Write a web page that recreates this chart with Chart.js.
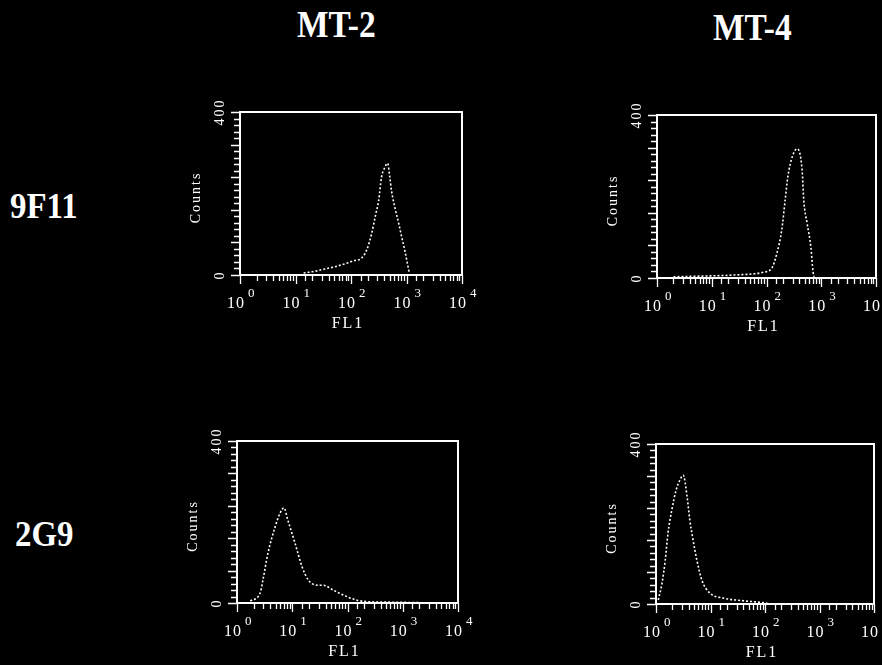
<!DOCTYPE html>
<html>
<head>
<meta charset="utf-8">
<script src="https://cdn.jsdelivr.net/npm/chart.js@4.4.1/dist/chart.umd.min.js"></script>
<style>
  html, body { margin:0; padding:0; background:#000; width:882px; height:665px; overflow:hidden; }
  .pane { position:absolute; }
  .lbl { position:absolute; color:#fff; font-family:"Liberation Serif", "DejaVu Serif", serif; font-weight:bold; white-space:nowrap; transform-origin:left top; }
</style>
</head>
<body>
<div id="titles"></div>
<canvas id="c1" class="pane"></canvas>
<canvas id="c2" class="pane"></canvas>
<canvas id="c3" class="pane"></canvas>
<canvas id="c4" class="pane"></canvas>
<script>
// ---- data ----
const columnTitles = ['MT-2', 'MT-4'];
const rowTitles = ['9F11', '2G9'];
const yTickLabels = [0, 400];
const xTickExponents = [0, 1, 2, 3, 4];
const yAxisTitle = 'Counts';
const xAxisTitle = 'FL1';

// MT-2 / 9F11
const mt2_9f11_fl1 =    [14, 20, 32, 50, 80, 112, 150, 190, 235, 280, 315, 355, 400, 457, 500, 537, 630, 725, 830, 935, 1050, 1120];
const mt2_9f11_counts = [5,  8,  14, 20, 28, 35,  40,  60,  101, 150, 183, 240, 262, 274, 240, 207, 160, 126, 90,  59,  25,   5];
// MT-4 / 9F11
const mt4_9f11_fl1 =    [2, 4, 8, 16, 32, 56, 87, 126, 155, 190, 219, 245, 295, 363, 447, 479, 550, 646, 708, 741];
const mt4_9f11_counts = [3, 4, 5, 6,  8,  10, 14, 25,  61,  118, 191, 248, 297, 317, 265, 191, 135, 76,  15,  3];
// MT-2 / 2G9
const mt2_2g9_fl1 =    [1.74, 2.63, 2.95, 3.63, 4.9, 6.03, 7.08, 8.3, 11.2, 15.1, 19.5, 28.2, 36.3, 55, 83, 148, 257, 630, 2000];
const mt2_2g9_counts = [5,    25,   57,   123,  188, 222,  235,  205, 148,  89,   57,   44,   44,   32, 20, 7,   3,   2,   1];
// MT-4 / 2G9
const mt4_2g9_fl1 =    [1.1, 1.29, 1.48, 1.66, 1.95, 2.34, 2.75, 3.16, 3.72, 4.17, 4.79, 5.62, 6.92, 9.77, 17, 40, 71, 110];
const mt4_2g9_counts = [10,  52,   110,  177,  235,  285,  310,  322,  268,  210,  160,  110,  60,   27,   15, 8,  5,  2];

// ---- layout (plot box in page pixels) ----
const PAD_L = 60, PAD_T = 20, PAD_R = 20, PAD_B = 60;
const panels = [
  { id: 'c1', box: [240, 112, 462, 275], fl1: mt2_9f11_fl1, counts: mt2_9f11_counts },
  { id: 'c2', box: [657, 115, 876, 278], fl1: mt4_9f11_fl1, counts: mt4_9f11_counts },
  { id: 'c3', box: [237, 441, 458, 603], fl1: mt2_2g9_fl1, counts: mt2_2g9_counts },
  { id: 'c4', box: [656, 444, 874, 604], fl1: mt4_2g9_fl1, counts: mt4_2g9_counts }
];

// ---- titles ----
const titleDiv = document.getElementById('titles');
const titlePos = [
  { text: columnTitles[0], x: 297, y: 2, size: 38, sx: 0.88 },
  { text: columnTitles[1], x: 713, y: 5, size: 38, sx: 0.88 },
  { text: rowTitles[0], x: 10, y: 187, size: 35, sx: 0.94 },
  { text: rowTitles[1], x: 15, y: 515, size: 35, sx: 0.94 }
];
titlePos.forEach(t => {
  const d = document.createElement('div');
  d.className = 'lbl';
  d.textContent = t.text;
  d.style.left = t.x + 'px';
  d.style.top = t.y + 'px';
  d.style.fontSize = t.size + 'px';
  d.style.transform = 'scaleX(' + t.sx + ')';
  titleDiv.appendChild(d);
});

const SERIF = '"Liberation Serif", "DejaVu Serif", serif';
const isPow10 = v => Math.abs(Math.log10(v) - Math.round(Math.log10(v))) < 1e-9;
const textPlugin = {
  id: 'facsText',
  afterDraw(chart) {
    const { ctx, chartArea: a, scales } = chart;
    ctx.save();
    ctx.strokeStyle = '#fff';
    ctx.fillStyle = '#fff';
    // tick marks from the library's own ticks
    ctx.lineWidth = 1.3;
    ctx.beginPath();
    scales.y.ticks.forEach(t => {
      const py = Math.round(scales.y.getPixelForValue(t.value)) + 0.5;
      const len = (Math.round(t.value) % 80 === 0) ? 9 : 6;
      ctx.moveTo(a.left - len, py);
      ctx.lineTo(a.left, py);
    });
    scales.x.ticks.forEach(t => {
      const px = Math.round(scales.x.getPixelForValue(t.value)) + 0.5;
      const len = isPow10(t.value) ? 9 : 6;
      ctx.moveTo(px, a.bottom);
      ctx.lineTo(px, a.bottom + len);
    });
    ctx.stroke();
    // frame
    ctx.lineWidth = 2;
    ctx.strokeRect(a.left, a.top, a.right - a.left, a.bottom - a.top);
    // y tick labels (rotated)
    ctx.font = '14px ' + SERIF;
    ctx.letterSpacing = '2px';
    ctx.textAlign = 'center';
    ctx.textBaseline = 'middle';
    yTickLabels.forEach(v => {
      ctx.save();
      ctx.translate(a.left - 20, scales.y.getPixelForValue(v));
      ctx.rotate(-Math.PI / 2);
      ctx.fillText(String(v), 0, 0);
      ctx.restore();
    });
    // y title
    ctx.save();
    ctx.font = '14px ' + SERIF;
    ctx.letterSpacing = '2px';
    ctx.translate(a.left - 44, (a.top + a.bottom) / 2 + 4);
    ctx.rotate(-Math.PI / 2);
    ctx.fillText(yAxisTitle, 0, 0);
    ctx.restore();
    // x tick labels 10^n
    ctx.textBaseline = 'alphabetic';
    xTickExponents.forEach(e => {
      const px = scales.x.getPixelForValue(Math.pow(10, e));
      ctx.font = '16px ' + SERIF;
      ctx.letterSpacing = '1px';
      ctx.textAlign = 'right';
      ctx.fillText('10', px + 5, a.bottom + 33);
      ctx.font = '13px ' + SERIF;
      ctx.letterSpacing = '0px';
      ctx.textAlign = 'left';
      ctx.fillText(String(e), px + 8, a.bottom + 22);
    });
    // x title
    ctx.font = '16px ' + SERIF;
    ctx.letterSpacing = '2px';
    ctx.textAlign = 'center';
    ctx.fillText(xAxisTitle, (a.left + a.right) / 2 - 3, a.bottom + 53);
    ctx.restore();
  }
};

panels.forEach(p => {
  const [L, T, R, B] = p.box;
  const cv = document.getElementById(p.id);
  const w = (R - L) + PAD_L + PAD_R;
  const h = (B - T) + PAD_T + PAD_B;
  cv.width = w; cv.height = h;
  cv.style.width = w + 'px'; cv.style.height = h + 'px';
  cv.style.left = (L - PAD_L) + 'px';
  cv.style.top = (T - PAD_T) + 'px';
  new Chart(cv, {
    type: 'line',
    data: {
      datasets: [{
        data: p.fl1.map((x, i) => ({ x: x, y: p.counts[i] })),
        borderColor: '#fff',
        borderWidth: 1.6,
        borderDash: [2, 2],
        pointRadius: 0,
        fill: false,
        cubicInterpolationMode: 'monotone'
      }]
    },
    options: {
      responsive: false,
      animation: false,
      devicePixelRatio: 1,
      layout: { padding: { left: 0, top: PAD_T, right: PAD_R, bottom: 0 } },
      plugins: { legend: { display: false }, tooltip: { enabled: false } },
      scales: {
        x: {
          type: 'logarithmic', min: 1, max: 10000,
          ticks: { display: true, autoSkip: false, color: 'rgba(0,0,0,0)', callback: () => '' },
          grid: { display: false },
          border: { display: false },
          afterFit(s) { s.height = PAD_B; }
        },
        y: {
          type: 'linear', min: 0, max: 400,
          ticks: { display: true, stepSize: 16, maxTicksLimit: 40, autoSkip: false, color: 'rgba(0,0,0,0)', callback: () => '' },
          grid: { display: false },
          border: { display: false },
          afterFit(s) { s.width = PAD_L; }
        }
      }
    },
    plugins: [textPlugin]
  });
});
</script>
</body>
</html>
